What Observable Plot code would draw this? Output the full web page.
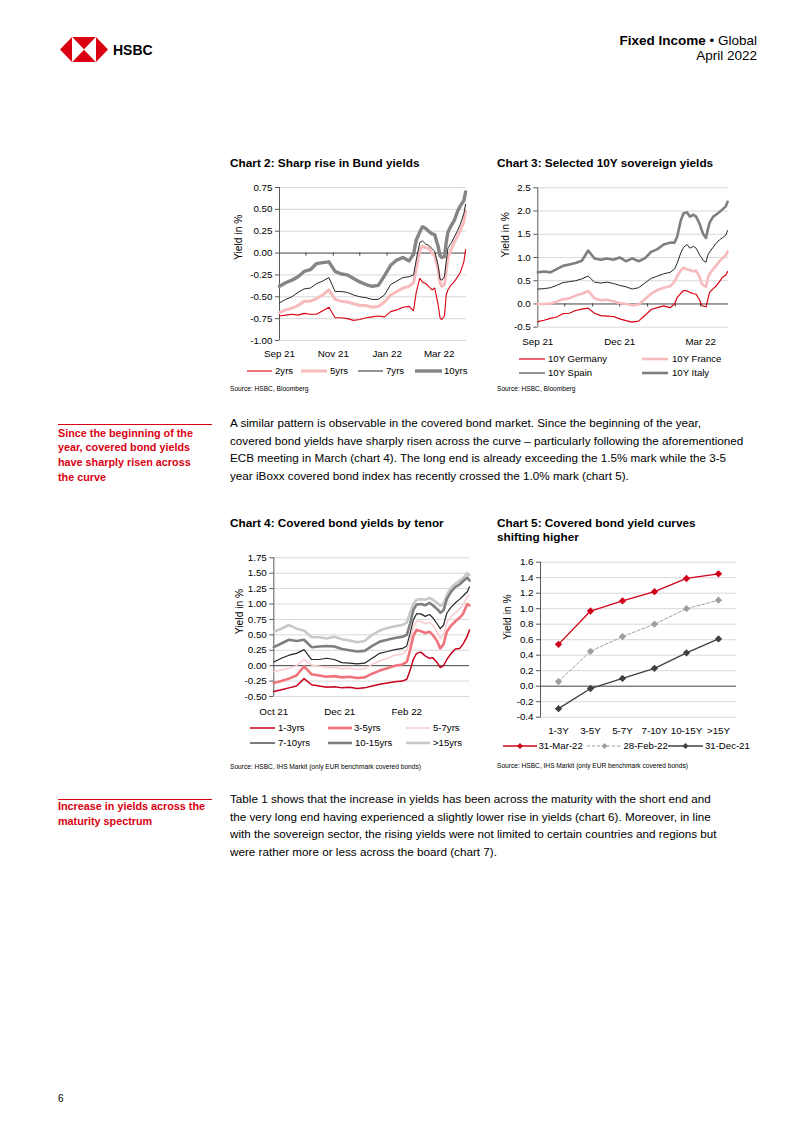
<!DOCTYPE html>
<html>
<head>
<meta charset="utf-8">
<script src="https://cdn.jsdelivr.net/npm/d3@7"></script>
<script src="https://cdn.jsdelivr.net/npm/@observablehq/plot@0.6"></script>
<style>
html,body{margin:0;padding:0;background:#fff;}
#page{position:relative;width:802px;height:1133px;overflow:hidden;font-family:"Liberation Sans",Arial,Helvetica,sans-serif;color:#000;}
.a{position:absolute;white-space:pre;}
.title{font-weight:bold;font-size:11.8px;line-height:14px;}
.src{font-size:6.6px;line-height:8px;}
.lg{font-size:9.6px;line-height:12px;height:12px;}
.body{font-size:11.7px;line-height:17.6px;}
.side{font-size:10.8px;line-height:14.8px;font-weight:bold;color:#db0011;}
.rule{position:absolute;height:1px;background:#db0011;}
</style>
</head>
<body>
<div id="page"></div>
<script>
// ---------------- DATA ----------------
// Charts 2 & 3: dates (Sep 21 - Mar 22)
const sepMarDates = ["2021-09-01","2021-09-08","2021-09-15","2021-09-22","2021-09-29","2021-10-06","2021-10-13","2021-10-20","2021-10-27","2021-11-03","2021-11-10","2021-11-17","2021-11-24","2021-12-01","2021-12-08","2021-12-15","2021-12-22","2021-12-29","2022-01-05","2022-01-12","2022-01-19","2022-01-26","2022-01-31","2022-02-03","2022-02-07","2022-02-10","2022-02-14","2022-02-17","2022-02-21","2022-02-24","2022-02-28","2022-03-02","2022-03-04","2022-03-07","2022-03-09","2022-03-11","2022-03-15","2022-03-18","2022-03-22","2022-03-25","2022-03-29","2022-03-31"];

// Chart 2: Bund yields (%)
const bund2y  = [-0.72,-0.71,-0.70,-0.71,-0.69,-0.70,-0.70,-0.66,-0.62,-0.74,-0.74,-0.75,-0.77,-0.76,-0.74,-0.73,-0.72,-0.73,-0.67,-0.65,-0.62,-0.61,-0.66,-0.45,-0.29,-0.33,-0.35,-0.38,-0.42,-0.40,-0.60,-0.74,-0.76,-0.72,-0.48,-0.42,-0.36,-0.33,-0.27,-0.22,-0.10,0.04];
const bund5y  = [-0.68,-0.65,-0.63,-0.60,-0.55,-0.55,-0.52,-0.48,-0.42,-0.53,-0.55,-0.56,-0.58,-0.60,-0.60,-0.62,-0.61,-0.56,-0.48,-0.44,-0.40,-0.38,-0.34,-0.18,0.03,0.08,0.06,0.06,0.00,-0.03,-0.20,-0.34,-0.38,-0.36,-0.20,-0.05,0.05,0.12,0.20,0.26,0.36,0.48];
const bund7y  = [-0.57,-0.53,-0.50,-0.45,-0.41,-0.40,-0.35,-0.32,-0.28,-0.44,-0.44,-0.45,-0.48,-0.50,-0.51,-0.53,-0.53,-0.48,-0.36,-0.32,-0.28,-0.27,-0.25,-0.08,0.12,0.14,0.10,0.09,0.05,0.02,-0.15,-0.30,-0.31,-0.27,-0.10,0.06,0.12,0.18,0.26,0.33,0.45,0.56];
const bund10y = [-0.38,-0.34,-0.31,-0.27,-0.21,-0.19,-0.12,-0.11,-0.10,-0.21,-0.24,-0.25,-0.29,-0.33,-0.36,-0.38,-0.37,-0.26,-0.14,-0.08,-0.05,-0.09,-0.01,0.15,0.24,0.30,0.28,0.25,0.22,0.21,0.07,-0.03,-0.05,-0.04,0.12,0.24,0.32,0.37,0.48,0.54,0.60,0.70];
const chart2Ticks = ["2021-09-01","2021-11-01","2022-01-01","2022-03-01"];
const chart2TickLabels = ["Sep 21","Nov 21","Jan 22","Mar 22"];
const chart2YTicks = [-1,-0.75,-0.5,-0.25,0,0.25,0.5,0.75];

// Chart 3: 10Y sovereign yields (%)
const germany10y = [-0.38,-0.35,-0.31,-0.28,-0.21,-0.20,-0.14,-0.11,-0.09,-0.20,-0.25,-0.26,-0.27,-0.32,-0.36,-0.39,-0.37,-0.25,-0.12,-0.08,-0.04,-0.08,0.00,0.14,0.23,0.29,0.28,0.25,0.22,0.21,0.08,-0.02,-0.05,-0.06,0.10,0.25,0.33,0.38,0.48,0.57,0.62,0.70];
const france10y  = [0.00,0.00,0.01,0.05,0.10,0.12,0.18,0.22,0.28,0.12,0.08,0.09,0.06,0.02,0.00,-0.03,-0.01,0.10,0.22,0.30,0.35,0.38,0.48,0.60,0.72,0.78,0.74,0.73,0.70,0.72,0.58,0.45,0.40,0.37,0.55,0.65,0.75,0.82,0.92,0.98,1.05,1.13];
const spain10y   = [0.32,0.33,0.35,0.40,0.46,0.48,0.50,0.54,0.60,0.47,0.45,0.47,0.44,0.40,0.37,0.32,0.35,0.45,0.55,0.60,0.65,0.68,0.75,0.88,1.10,1.22,1.28,1.20,1.24,1.20,1.05,1.00,0.93,0.90,1.05,1.12,1.22,1.30,1.38,1.42,1.48,1.58];
const italy10y   = [0.68,0.70,0.68,0.75,0.82,0.85,0.88,0.93,1.15,0.98,0.95,0.98,0.95,1.00,0.92,0.98,0.92,0.98,1.12,1.18,1.28,1.32,1.32,1.45,1.80,1.95,1.97,1.88,1.92,1.88,1.72,1.60,1.50,1.42,1.60,1.75,1.88,1.92,1.98,2.03,2.10,2.20];
const chart3Ticks = ["2021-09-01","2021-12-01","2022-03-01"];
const chart3TickLabels = ["Sep 21","Dec 21","Mar 22"];
const chart3YTicks = [-0.5,0,0.5,1,1.5,2,2.5];
const monthStarts = ["2021-10-01","2021-11-01","2021-12-01","2022-01-01","2022-02-01","2022-03-01"];

// Chart 4: covered bond yields by tenor (%)
const octMarDates = ["2021-10-01","2021-10-08","2021-10-15","2021-10-22","2021-10-29","2021-11-05","2021-11-12","2021-11-19","2021-11-26","2021-12-03","2021-12-10","2021-12-17","2021-12-24","2021-12-31","2022-01-07","2022-01-14","2022-01-21","2022-01-28","2022-02-01","2022-02-04","2022-02-07","2022-02-10","2022-02-14","2022-02-18","2022-02-22","2022-02-25","2022-03-01","2022-03-04","2022-03-07","2022-03-10","2022-03-14","2022-03-18","2022-03-22","2022-03-25","2022-03-29","2022-03-31"];
const cb1to3   = [-0.42,-0.39,-0.36,-0.33,-0.21,-0.31,-0.33,-0.35,-0.34,-0.36,-0.35,-0.37,-0.36,-0.33,-0.30,-0.28,-0.26,-0.25,-0.22,-0.08,0.10,0.20,0.22,0.16,0.12,0.13,0.05,-0.03,0.00,0.10,0.20,0.27,0.28,0.35,0.48,0.58];
const cb3to5   = [-0.28,-0.25,-0.21,-0.16,-0.01,-0.14,-0.16,-0.18,-0.17,-0.19,-0.18,-0.20,-0.19,-0.13,-0.08,-0.04,0.00,0.02,0.06,0.25,0.48,0.58,0.56,0.53,0.55,0.50,0.40,0.28,0.35,0.55,0.65,0.72,0.78,0.84,1.00,0.98];
const cb5to7   = [-0.10,-0.07,-0.04,0.00,0.10,0.01,-0.01,-0.03,-0.03,-0.05,-0.04,-0.06,-0.05,0.02,0.08,0.12,0.17,0.19,0.24,0.42,0.62,0.72,0.72,0.68,0.70,0.66,0.55,0.44,0.50,0.70,0.80,0.86,0.93,0.98,1.12,1.14];
const cb7to10  = [0.06,0.12,0.17,0.20,0.26,0.10,0.10,0.12,0.10,0.05,0.04,0.03,0.04,0.12,0.20,0.23,0.26,0.28,0.32,0.52,0.74,0.84,0.84,0.80,0.83,0.78,0.68,0.60,0.66,0.85,0.95,1.02,1.08,1.13,1.20,1.28];
const cb10to15 = [0.30,0.36,0.42,0.40,0.42,0.30,0.31,0.32,0.31,0.27,0.25,0.23,0.24,0.32,0.39,0.42,0.45,0.47,0.50,0.68,0.90,0.99,1.00,0.98,1.02,0.98,0.92,0.86,0.90,1.08,1.20,1.28,1.32,1.37,1.43,1.38];
const cbOver15 = [0.55,0.60,0.66,0.60,0.57,0.46,0.46,0.44,0.47,0.43,0.41,0.38,0.40,0.50,0.57,0.61,0.64,0.66,0.70,0.86,1.00,1.07,1.08,1.07,1.10,1.07,1.02,0.97,1.00,1.15,1.27,1.33,1.38,1.42,1.50,1.47];
const chart4Ticks = ["2021-10-01","2021-12-01","2022-02-01"];
const chart4TickLabels = ["Oct 21","Dec 21","Feb 22"];
const chart4YTicks = [-0.5,-0.25,0,0.25,0.5,0.75,1,1.25,1.5,1.75];

// Chart 5: covered bond yield curves (%)
const tenors = ["1-3Y","3-5Y","5-7Y","7-10Y","10-15Y",">15Y"];
const curveMar22 = [0.54,0.97,1.10,1.22,1.39,1.45];
const curveFeb22 = [0.06,0.45,0.64,0.80,1.00,1.11];
const curveDec21 = [-0.29,-0.03,0.10,0.23,0.43,0.61];
const chart5YTicks = [-0.4,-0.2,0,0.2,0.4,0.6,0.8,1.0,1.2,1.4,1.6];

// ---------------- LAYOUT HELPERS ----------------
const FONT = '"Liberation Sans", Arial, Helvetica, sans-serif';
const TICK_FS = 9.8;
const page = document.getElementById("page");
function put(el, left, top){ el.style.position="absolute"; el.style.left=left+"px"; el.style.top=top+"px"; page.appendChild(el); return el; }
function txt(cls, left, top, text, extra){ const d=document.createElement("div"); d.className="a "+cls; d.textContent=text; if(extra) Object.assign(d.style, extra); return put(d,left,top); }
function rule(left, top, width){ const d=document.createElement("div"); d.className="rule"; d.style.width=width+"px"; return put(d,left,top); }
function legendItem(x0, x1, textX, yc, label, s){
  const ns="http://www.w3.org/2000/svg";
  const svg=document.createElementNS(ns,"svg");
  svg.setAttribute("width", x1-x0+4); svg.setAttribute("height", 12);
  svg.style.overflow="visible";
  const ln=document.createElementNS(ns,"line");
  ln.setAttribute("x1",0); ln.setAttribute("x2",x1-x0); ln.setAttribute("y1",6); ln.setAttribute("y2",6);
  ln.setAttribute("stroke",s.color); ln.setAttribute("stroke-width",s.w);
  if(s.dash) ln.setAttribute("stroke-dasharray",s.dash);
  svg.appendChild(ln);
  if(s.marker){
    const m=document.createElementNS(ns,"path");
    const cx=(x1-x0)/2, r=3;
    m.setAttribute("d",`M${cx},${6-r}L${cx+r},6L${cx},${6+r}L${cx-r},6Z`);
    m.setAttribute("fill",s.color);
    svg.appendChild(m);
  }
  put(svg, x0, yc-6);
  txt("lg", textX, yc-6, label);
}

// ---------------- HEADER ----------------
(function(){
  const ns="http://www.w3.org/2000/svg";
  const svg=document.createElementNS(ns,"svg");
  svg.setAttribute("width",48); svg.setAttribute("height",25);
  const polys=[
    ["0,12.5 12,0 12,25","#db0011"],
    ["48,12.5 36,0 36,25","#db0011"],
    ["12,0 36,0 24,12.5","#db0011"],
    ["12,25 36,25 24,12.5","#db0011"],
    ["12,0 24,12.5 12,25","#ffffff"],
    ["36,0 24,12.5 36,25","#ffffff"]
  ];
  for(const [p,c] of polys){ const e=document.createElementNS(ns,"polygon"); e.setAttribute("points",p); e.setAttribute("fill",c); svg.appendChild(e); }
  put(svg, 60, 37);
  txt("", 113, 42, "HSBC", {fontWeight:"bold", fontSize:"14px", lineHeight:"16px"});
  const h=document.createElement("div"); h.className="a";
  h.innerHTML='<b>Fixed Income</b> \u2022 Global';
  Object.assign(h.style,{fontSize:"13.5px",lineHeight:"16px",right:"45px",textAlign:"right",position:"absolute",top:"33px"});
  page.appendChild(h);
  const h2=document.createElement("div"); h2.className="a"; h2.textContent="April 2022";
  Object.assign(h2.style,{fontSize:"13.5px",lineHeight:"16px",right:"45px",top:"48px",position:"absolute"});
  page.appendChild(h2);
})();

// ---------------- TIME CHART ----------------
function timeChart(o){
  const labelMap = new Map(o.xTicks.map((d,i)=>[+new Date(d), o.xLabels[i]]));
  const y0=o.yTicks[0], y1=o.yTicks[o.yTicks.length-1];
  const marks=[
    Plot.gridY(o.yTicks.filter(v=>v!==0), {stroke:"#d9d9d9", strokeOpacity:1, strokeWidth:1}),
    Plot.ruleX([new Date(o.xDomain[0])], {y1:y0, y2:y1, stroke:"#595959", strokeWidth:1}),
    Plot.axisY(o.yTicks, {tickFormat:o.yFmt, tickSize:4, tickPadding:3, stroke:"#595959", fill:"#000", label:null, fontSize:TICK_FS}),
    Plot.axisX(o.xTicks.map(d=>new Date(d)), {tickSize:0, tickPadding:o.xPad, tickFormat:d=>labelMap.get(+d), label:null, fill:"#000", fontSize:TICK_FS}),
    Plot.ruleY([0], {stroke:"#404040", strokeWidth:1})
  ];
  if(o.monthTicks) marks.push(Plot.ruleX(o.monthTicks.map(d=>new Date(d)), {y1:0, y2:o.tickLen, stroke:"#404040", strokeWidth:1}));
  for(const s of o.series){
    const rows=o.dates.map((d,i)=>({date:new Date(d), value:s.values[i]}));
    marks.push(Plot.line(rows, {x:"date", y:"value", stroke:s.color, strokeWidth:s.w, strokeLinejoin:"round"}));
  }
  marks.push(Plot.text(["Yield in %"], {frameAnchor:"left", rotate:-90, dx:o.labDx, dy:o.labDy, fontSize:10.3, fill:"#000"}));
  const svg=Plot.plot({
    width:o.width, height:o.height,
    marginLeft:o.ml, marginRight:o.mr, marginTop:o.mt, marginBottom:o.mb,
    style:{fontFamily:FONT, fontSize:TICK_FS+"px", color:"#000", background:"transparent", overflow:"visible"},
    x:{type:"utc", domain:o.xDomain.map(d=>new Date(d))},
    y:{domain:[y0,y1]},
    marks
  });
  put(svg, o.left, o.top);
}

// Chart 2
txt("title", 230, 156, "Chart 2: Sharp rise in Bund yields");
timeChart({
  left:225, top:177, width:245, height:187, ml:54, mr:4, mt:10, mb:24,
  xDomain:["2021-09-01","2022-04-01"], dates:sepMarDates,
  yTicks:chart2YTicks, yFmt:d=>d.toFixed(2),
  xTicks:chart2Ticks, xLabels:chart2TickLabels, xPad:10,
  monthTicks:monthStarts, tickLen:-0.035,
  labDx:-41, labDy:-4,
  series:[
    {values:bund2y, color:"#db0011", w:1.1},
    {values:bund5y, color:"#f7babd", w:3},
    {values:bund7y, color:"#262626", w:1},
    {values:bund10y, color:"#858585", w:3.4}
  ]
});
legendItem(247,272,275,370.7,"2yrs",{color:"#db0011",w:1.1});
legendItem(301,327,330,370.7,"5yrs",{color:"#f7babd",w:3});
legendItem(358,383,386,370.7,"7yrs",{color:"#262626",w:1});
legendItem(415,442,444,370.7,"10yrs",{color:"#858585",w:3.4});
txt("src", 230, 385, "Source: HSBC, Bloomberg");

// Chart 3
txt("title", 497, 156, "Chart 3: Selected 10Y sovereign yields");
timeChart({
  left:495, top:177, width:235, height:173.7, ml:42.3, mr:2, mt:10.3, mb:24,
  xDomain:["2021-09-01","2022-04-01"], dates:sepMarDates,
  yTicks:chart3YTicks, yFmt:d=>d.toFixed(1),
  xTicks:chart3Ticks, xLabels:chart3TickLabels, xPad:10.5,
  monthTicks:monthStarts, tickLen:-0.065,
  labDx:-32.3, labDy:0,
  series:[
    {values:germany10y, color:"#db0011", w:1.2},
    {values:france10y, color:"#f7babd", w:2.6},
    {values:spain10y, color:"#262626", w:1},
    {values:italy10y, color:"#7f7f7f", w:2.6}
  ]
});
legendItem(519,545,548,359,"10Y Germany",{color:"#db0011",w:1.2});
legendItem(642,668,672,359,"10Y France",{color:"#f7babd",w:2.6});
legendItem(519,545,548,372.7,"10Y Spain",{color:"#262626",w:1});
legendItem(642,668,672,372.7,"10Y Italy",{color:"#7f7f7f",w:2.6});
txt("src", 497, 385, "Source: HSBC, Bloomberg");

// Chart 4
txt("title", 230, 515.7, "Chart 4: Covered bond yields by tenor");
timeChart({
  left:229, top:547, width:242, height:173, ml:44.3, mr:2, mt:10.3, mb:24,
  xDomain:["2021-10-01","2022-03-31"], dates:octMarDates,
  yTicks:chart4YTicks, yFmt:d=>d.toFixed(2),
  xTicks:chart4Ticks, xLabels:chart4TickLabels, xPad:11.5,
  monthTicks:null,
  labDx:-34.3, labDy:7,
  series:[
    {values:cbOver15, color:"#c9c9c9", w:2.6},
    {values:cb10to15, color:"#7f7f7f", w:2.6},
    {values:cb7to10, color:"#262626", w:1.2},
    {values:cb5to7, color:"#f9cdd0", w:1.5},
    {values:cb3to5, color:"#f0737b", w:2.6},
    {values:cb1to3, color:"#c8001e", w:1.5}
  ]
});
legendItem(250,275,278,728.3,"1-3yrs",{color:"#c8001e",w:1.5});
legendItem(328,352,354,728.3,"3-5yrs",{color:"#f0737b",w:2.6});
legendItem(406,430,433,728.3,"5-7yrs",{color:"#f9cdd0",w:1.5});
legendItem(250,275,278,743.3,"7-10yrs",{color:"#262626",w:1.2});
legendItem(328,352,355,743.3,"10-15yrs",{color:"#7f7f7f",w:2.6});
legendItem(406,430,433,743.3,">15yrs",{color:"#c9c9c9",w:2.6});
txt("src", 230, 762.7, "Source: HSBC, IHS Markit (only EUR benchmark covered bonds)");

// Chart 5
txt("title", 497, 515.7, "Chart 5: Covered bond yield curves\nshifting higher");
(function(){
  const series=[
    {values:curveMar22, color:"#d0021b", w:1.3, dash:null},
    {values:curveFeb22, color:"#9e9e9e", w:1, dash:"3,2"},
    {values:curveDec21, color:"#404040", w:1.3, dash:null}
  ];
  const marks=[
    Plot.gridY(chart5YTicks.filter(v=>v!==0), {stroke:"#d9d9d9", strokeOpacity:1}),
    Plot.frame({anchor:"left", stroke:"#595959"}),
    Plot.axisY(chart5YTicks, {tickFormat:d=>d.toFixed(1), tickSize:4, tickPadding:3, stroke:"#595959", fill:"#000", label:null, fontSize:TICK_FS}),
    Plot.axisX({tickSize:0, tickPadding:10, label:null, fill:"#000", fontSize:TICK_FS}),
    Plot.ruleY([0], {stroke:"#404040"})
  ];
  for(const s of series){
    const rows=tenors.map((t,i)=>({tenor:t, value:s.values[i]}));
    marks.push(Plot.line(rows,{x:"tenor", y:"value", stroke:s.color, strokeWidth:s.w, strokeDasharray:s.dash}));
    marks.push(Plot.dot(rows,{x:"tenor", y:"value", symbol:"diamond2", r:3.3, fill:s.color, stroke:"none"}));
  }
  marks.push(Plot.text(["Yield in %"], {frameAnchor:"left", rotate:-90, dx:-33.3, dy:0, fontSize:10.3, fill:"#000"}));
  const svg=Plot.plot({
    width:245, height:188.7, marginLeft:45, marginRight:4, marginTop:9.7, marginBottom:24,
    style:{fontFamily:FONT, fontSize:TICK_FS+"px", color:"#000", background:"transparent", overflow:"visible"},
    x:{type:"point", domain:tenors, padding:0.5},
    y:{domain:[-0.4,1.6]},
    marks
  });
  put(svg, 495, 552);
})();
legendItem(503,537,538.5,746,"31-Mar-22",{color:"#d0021b",w:1.3,marker:true});
legendItem(587,622,623.5,746,"28-Feb-22",{color:"#9e9e9e",w:1,dash:"3,2",marker:true});
legendItem(668,703,705,746,"31-Dec-21",{color:"#404040",w:1.3,marker:true});
txt("src", 497, 762, "Source: HSBC, IHS Markit (only EUR benchmark covered bonds)");

// ---------------- TEXT ----------------
rule(58, 424, 154);
txt("side", 58, 425.6, "Since the beginning of the\nyear, covered bond yields\nhave sharply risen across\nthe curve");
txt("body", 230, 414.2, "A similar pattern is observable in the covered bond market. Since the beginning of the year,\ncovered bond yields have sharply risen across the curve \u2013 particularly following the aforementioned\nECB meeting in March (chart 4). The long end is already exceeding the 1.5% mark while the 3-5\nyear iBoxx covered bond index has recently crossed the 1.0% mark (chart 5).");

rule(58, 799, 154);
txt("side", 58, 799.3, "Increase in yields across the\nmaturity spectrum");
txt("body", 230, 790.2, "Table 1 shows that the increase in yields has been across the maturity with the short end and\nthe very long end having experienced a slightly lower rise in yields (chart 6). Moreover, in line\nwith the sovereign sector, the rising yields were not limited to certain countries and regions but\nwere rather more or less across the board (chart 7).");

txt("", 58, 1093, "6", {fontSize:"10px", lineHeight:"12px"});
</script>
</body>
</html>
